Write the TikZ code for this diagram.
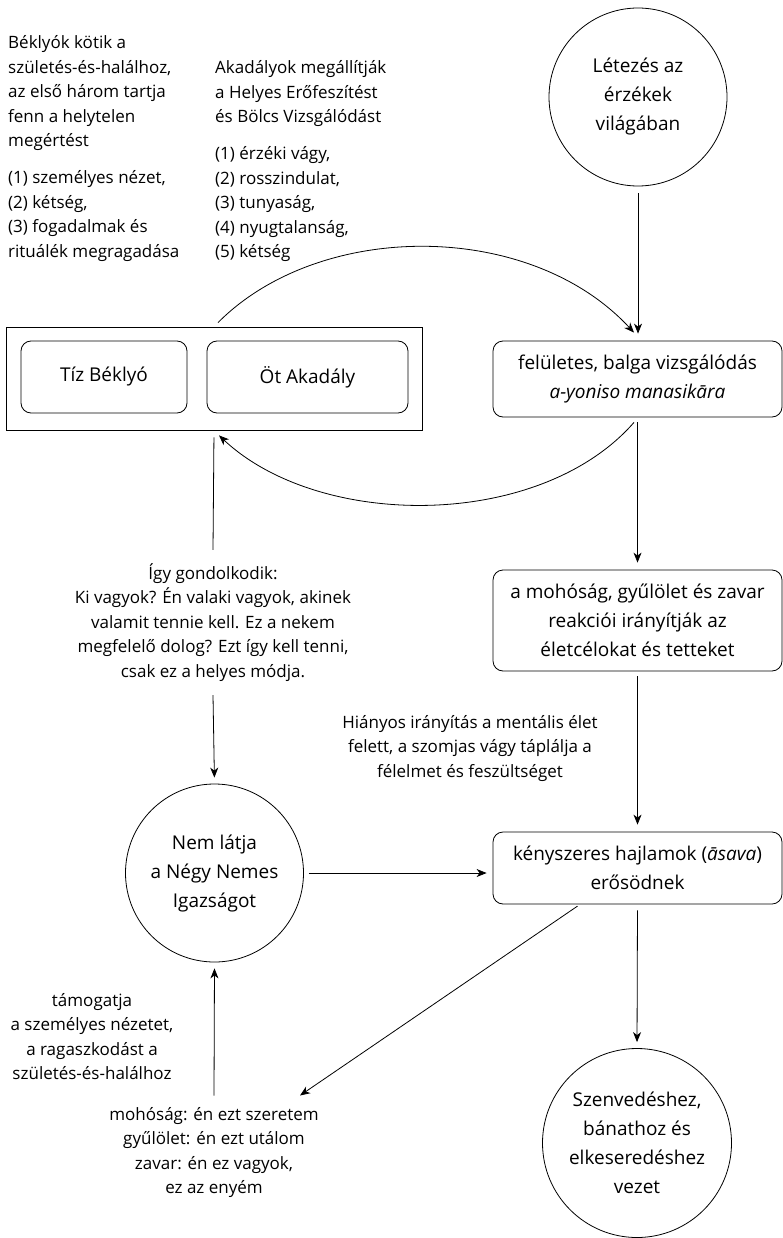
\documentclass[tikz,border=0pt]{standalone}
\usepackage{fontspec}
\setmainfont{Open Sans}
\usetikzlibrary{arrows.meta}
\begin{document}
\begin{tikzpicture}[x=1pt,y=-1pt,
  nodefont/.style={font=\fontsize{19}{29}\selectfont},
  notefont/.style={font=\fontsize{17}{24.5}\selectfont},
  rbox/.style={draw, line width=0.8pt, rounded corners=10pt, nodefont, align=center, inner sep=0pt},
  circ/.style={draw, line width=0.8pt, circle, nodefont, align=center, inner sep=0pt},
  grp/.style={draw, line width=0.8pt, inner sep=0pt},
  note/.style={notefont, align=center, inner sep=0pt},
  conn/.style={line width=0.8pt, -{Stealth[length=10pt,width=8pt,inset=3pt]}},
  plainline/.style={line width=0.8pt}
]
\useasboundingbox (0,0) rectangle (783,1238);

% main nodes
\node[circ, minimum size=178pt] (exist) at (638,97) {Létezés az\\érzékek\\világában};
\node[rbox, minimum width=289pt, minimum height=76pt] (fel) at (637.5,379) {felületes, balga vizsgálódás\\\textit{a-yoniso manasikāra}};
\node[rbox, minimum width=289pt, minimum height=101pt] (moh) at (637.5,620.5) {a mohóság, gyűlölet és zavar\\reakciói irányítják az\\életcélokat és tetteket};
\node[rbox, minimum width=289pt, minimum height=72pt] (keny) at (637.5,868) {kényszeres hajlamok (\textit{āsava})\\erősödnek};
\node[circ, minimum size=189pt] (szenv) at (637,1143) {Szenvedéshez,\\bánathoz és\\elkeseredéshez\\vezet};
\node[circ, minimum size=178pt] (nem) at (214.5,873) {Nem látja\\a Négy Nemes\\Igazságot};

% group with two boxes
\node[grp, minimum width=416pt, minimum height=103pt] (group) at (214,378.5) {};
\node[rbox, minimum width=166pt, minimum height=72pt] (tiz) at (104,377) {Tíz Béklyó};
\node[rbox, minimum width=201pt, minimum height=72pt] (ot) at (307.5,377) {Öt Akadály};

% annotations
\node[note, align=left, anchor=west] (bekn) at (8,148.5) {Béklyók kötik a\\születés-és-halálhoz,\\az első három tartja\\fenn a helytelen\\megértést\\[12.5pt](1) személyes nézet,\\(2) kétség,\\(3) fogadalmak és\\rituálék megragadása};
\node[note, align=left, anchor=west] (akn) at (215,161.5) {Akadályok megállítják\\a Helyes Erőfeszítést\\és Bölcs Vizsgálódást\\[12.5pt](1) érzéki vágy,\\(2) rosszindulat,\\(3) tunyaság,\\(4) nyugtalanság,\\(5) kétség};
\node[note, inner ysep=13.5pt] (igy) at (213,622.5) {Így gondolkodik:\\Ki vagyok? Én valaki vagyok, akinek\\valamit tennie kell. Ez a nekem\\megfelelő dolog? Ezt így kell tenni,\\csak ez a helyes módja.};
\node[note] (hiany) at (470,748.5) {Hiányos irányítás a mentális élet\\felett, a szomjas vágy táplálja a\\félelmet és feszültséget};
\node[note] (tam) at (92,1036.5) {támogatja\\a személyes nézetet,\\a ragaszkodást a\\születés-és-halálhoz};
\node[note, inner ysep=11.5pt] (mohtxt) at (214,1152.5) {mohóság: én ezt szeretem\\gyűlölet: én ezt utálom\\zavar: én ez vagyok,\\ez az enyém};

% connectors
\draw[conn, shorten <=7pt, shorten >=7pt] (exist.south) -- (exist.south |- fel.north);
\draw[conn, shorten <=5pt, shorten >=7pt] (fel.south) -- (moh.north);
\draw[conn, shorten <=5pt, shorten >=7pt] (moh.south) -- (keny.north);
\draw[conn, shorten <=6pt, shorten >=6pt] (keny.south) -- (szenv.north);
\draw[conn, shorten <=5pt, shorten >=6pt] (nem.east) -- (nem.east -| keny.west);
\draw[plainline, shorten <=7pt] (group.south) -- (igy.north);
\draw[conn, shorten >=6pt] (igy.south) -- (nem.north);
\draw[conn, shorten >=6pt] (mohtxt.north) -- (nem.south);
\draw[conn, shorten <=3pt] ([xshift=-57.5pt]keny.south) -- ([xshift=86pt]mohtxt.north);
\draw[conn] ([xshift=4pt,yshift=4pt]group.north) .. controls (320,220) and (530,220) .. ([xshift=-3.5pt,yshift=8pt]fel.north);
\draw[conn] ([xshift=-3.5pt,yshift=-5pt]fel.south) .. controls (540,530) and (320,530) .. ([xshift=5pt,yshift=-5pt]group.south);
\end{tikzpicture}
\end{document}
